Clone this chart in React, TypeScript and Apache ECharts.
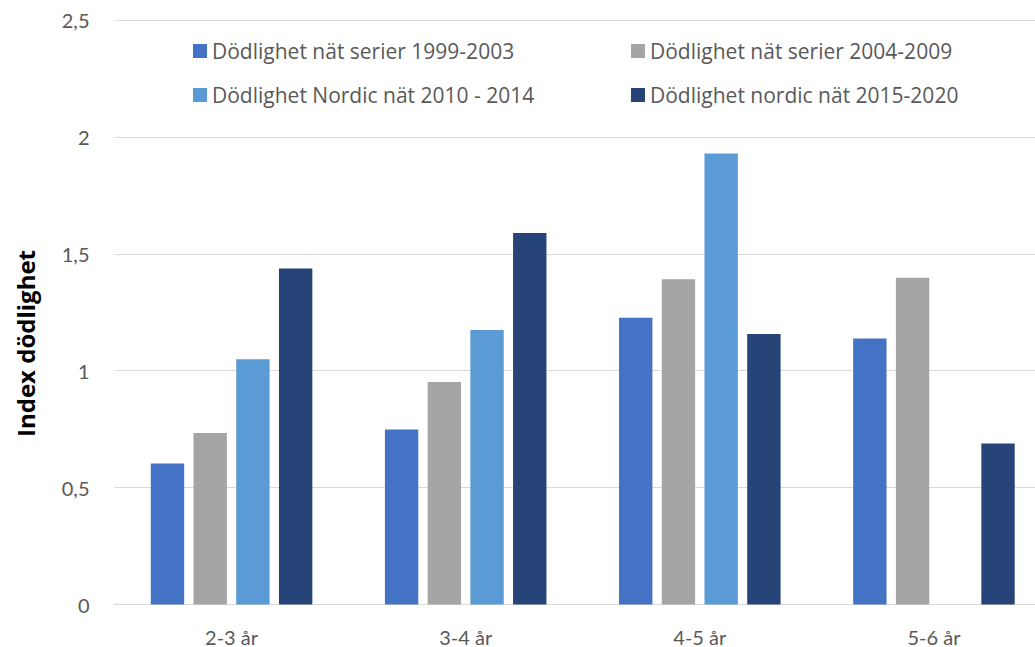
import React, { useEffect, useRef } from "react";
import * as echarts from "echarts";

const categories = ["2-3 år", "3-4 år", "4-5 år", "5-6 år"];
const seriesNames = [
  "Dödlighet nät serier 1999-2003",
  "Dödlighet nät serier 2004-2009",
  "Dödlighet Nordic nät 2010 - 2014",
  "Dödlighet nordic nät 2015-2020",
];
const s1999 = [0.603, 0.749, 1.227, 1.138];
const s2004 = [0.734, 0.952, 1.391, 1.398];
const s2010 = [1.049, 1.174, 1.929, null];
const s2015 = [1.437, 1.589, 1.157, 0.689];
const colors = ["#4472C4", "#A5A5A5", "#5B9BD5", "#264478"];
const yTicks = [0, 0.5, 1, 1.5, 2, 2.5];

const FONT = "Lato";
const FONT2 = "'Open Sans'";

export default function App() {
  const ref = useRef<HTMLDivElement>(null);
  useEffect(() => {
    if (!ref.current) return;
    const chart = echarts.init(ref.current, null, { renderer: "svg" });
    const data = [s1999, s2004, s2010, s2015];
    const legendPos = [
      { left: 193, top: 40 },
      { left: 631, top: 40 },
      { left: 193, top: 84 },
      { left: 631, top: 84 },
    ];
    chart.setOption({
      animation: false,
      backgroundColor: "#ffffff",
      textStyle: { fontFamily: FONT },
      grid: { left: 114.5, right: 0, top: 20, bottom: 42.5, containLabel: false },
      legend: seriesNames.map((n, i) => ({
        data: [n],
        left: legendPos[i].left,
        top: legendPos[i].top,
        padding: 0,
        itemWidth: 14,
        itemHeight: 14,
        icon: "rect",
        selectedMode: false,
        textStyle: { fontFamily: FONT2, fontSize: 21, color: "#595959", lineHeight: 22 },
      })),
      xAxis: {
        type: "category",
        data: categories,
        axisLine: { lineStyle: { color: "#D9D9D9", width: 1 } },
        axisTick: { show: false },
        axisLabel: { color: "#595959", fontSize: 20, fontFamily: FONT, margin: 22 },
      },
      yAxis: {
        type: "value",
        min: yTicks[0],
        max: yTicks[yTicks.length - 1],
        interval: 0.5,
        axisLine: { show: false },
        axisTick: { show: false },
        splitLine: { lineStyle: { color: "#D9D9D9", width: 1 } },
        axisLabel: {
          color: "#595959",
          fontSize: 20,
          fontFamily: FONT,
          margin: 25,
          formatter: (v: number) => String(v).replace(".", ","),
        },
      },
      graphic: [
        {
          type: "text",
          x: 25,
          y: 343.5,
          rotation: Math.PI / 2,
          style: {
            text: "Index dödlighet",
            font: `bold 24px ${FONT2}`,
            fill: "#000000",
            textAlign: "center",
            textVerticalAlign: "middle",
          },
        },
      ],
      series: seriesNames.map((n, i) => ({
        name: n,
        type: "bar",
        data: data[i],
        barGap: "28%",
        barCategoryGap: "31%",
        itemStyle: { color: colors[i] },
      })),
    });
    return () => chart.dispose();
  }, []);
  return (
    <div
      style={{
        position: "fixed",
        left: 0,
        top: 0,
        width: 1035,
        height: 647,
        overflow: "hidden",
        background: "#ffffff",
      }}
    >
      <div ref={ref} style={{ width: 1050.5, height: 647 }} />
    </div>
  );
}
